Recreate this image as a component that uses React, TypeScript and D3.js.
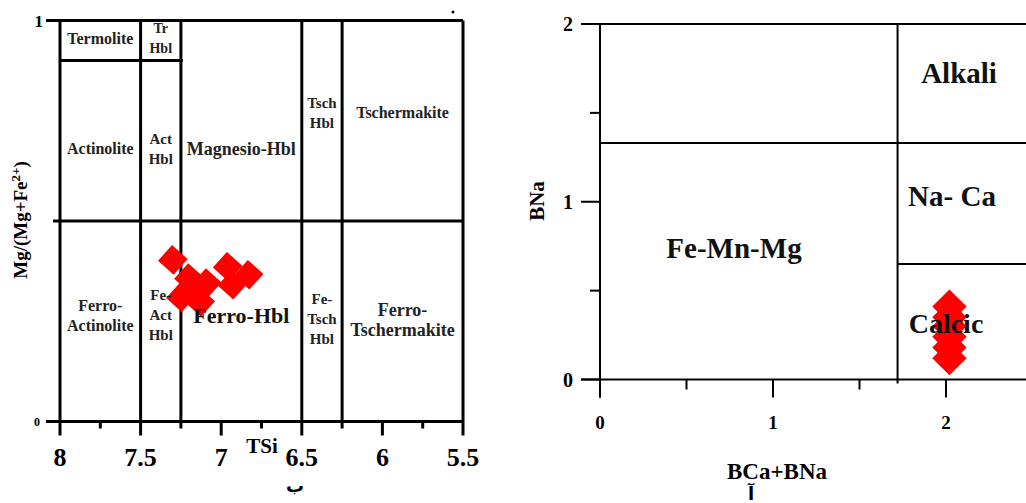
import React from 'react';
import * as d3 from 'd3';

// left diagram (TSi vs Mg/(Mg+Fe2+))
const tsi = [7.3, 7.2, 7.25, 7.13, 7.09, 7.18, 6.96, 6.83, 6.93];
const mgNo = [0.403, 0.358, 0.31, 0.298, 0.345, 0.33, 0.386, 0.366, 0.341];
const tsiTicks = [8, 7.5, 7, 6.5, 6, 5.5];
const tsiMinor = [7.75, 7.25, 6.75, 6.25, 5.75];
const leftBounds = [7.5, 7.25, 6.5, 6.25];

// right diagram (BCa+BNa vs BNa)
const bcaBna = [2.02, 2.02, 2.02, 2.02, 2.02, 2.02];
const bna = [0.41, 0.35, 0.3, 0.24, 0.18, 0.12];
const bTicks = [0, 1, 2];
const bMinor = [0.5, 1.5];
const splitX = 1.72;
const splitY1 = 1.33;
const splitY2 = 0.65;

const F = "'Times New Roman', Times, 'Liberation Serif', serif";

// text lines, x (TSi), y (Mg#), font size
const leftLabels: [string[], number, number, number][] = [
  [['Termolite'], 7.75, 0.955, 16],
  [['Tr', 'Hbl'], 7.375, 0.955, 14],
  [['Actinolite'], 7.75, 0.68, 16],
  [['Act', 'Hbl'], 7.375, 0.68, 15],
  [['Magnesio-Hbl'], 6.875, 0.68, 18],
  [['Tsch', 'Hbl'], 6.375, 0.77, 15],
  [['Tschermakite'], 5.875, 0.77, 16],
  [['Ferro-', 'Actinolite'], 7.75, 0.265, 16],
  [['Fe-', 'Act', 'Hbl'], 7.375, 0.265, 15],
  [['Fe-', 'Tsch', 'Hbl'], 6.375, 0.255, 15],
  [['Ferro-', 'Tschermakite'], 5.875, 0.255, 18],
];

export default function App() {
  const x = d3.scaleLinear().domain([8, 5.5]).range([60, 463]);
  const y = d3.scaleLinear().domain([0, 1]).range([421.5, 20.5]);
  const x2 = d3.scaleLinear().domain([0, 2.5]).range([600, 1032.5]);
  const y2 = d3.scaleLinear().domain([0, 2]).range([379.5, 24]);
  const dl = d3.symbol(d3.symbolSquare, 440)()!;
  const dr = d3.symbol(d3.symbolSquare, 590)()!;

  return (
    <svg width={1026} height={503} style={{ position: 'absolute', left: 0, top: 0, background: '#fff' }}>
      <g fontFamily={F} fontWeight={700}>
      {/* ---------- left diagram ---------- */}
      <g stroke="#000" strokeWidth={3} fill="none">
        <line x1={46} x2={x(5.5)} y1={y(1)} y2={y(1)} />
        <line x1={46} x2={x(5.5)} y1={y(0)} y2={y(0)} />
        <line x1={53} x2={x(5.5)} y1={y(0.5)} y2={y(0.5)} />
        <line x1={x(8)} x2={x(7.25) + 2} y1={y(0.9)} y2={y(0.9)} />
        {tsiTicks.map((t) => (
          <line key={'M' + t} x1={x(t)} x2={x(t)} y1={t === 8 || t === 7.5 || t === 6.5 || t === 5.5 ? y(1) : y(0)} y2={y(0) + 14} />
        ))}
        {tsiMinor.map((t) => (
          <line key={'m' + t} x1={x(t)} x2={x(t)} y1={leftBounds.includes(t) ? y(1) : y(0)} y2={y(0) + 7} />
        ))}
      </g>
      <circle cx={453} cy={12} r={1.5} fill="#000" />
      <text x={43} y={y(1) + 6} fontSize={17} textAnchor="end">1</text>
      <text x={40} y={y(0) + 4} fontSize={12} textAnchor="end">0</text>
      {tsiTicks.map((t) => (
        <text key={'t' + t} x={x(t)} y={466} fontSize={26} textAnchor="middle">{t}</text>
      ))}
      <text x={262} y={453} fontSize={21} textAnchor="middle">TSi</text>
      <text transform="translate(27,220) rotate(-90)" fontSize={19} textAnchor="middle">
        Mg/(Mg+Fe<tspan fontSize={13} dy={-7}>2+</tspan><tspan dy={7}>)</tspan>
      </text>
      <text x={295} y={492} fontSize={18} textAnchor="middle" fontFamily="DejaVu Sans">ب</text>

      {tsi.map((v, i) => (
        <path key={'p' + i} d={dl} fill="#f00" transform={`translate(${x(v)},${y(mgNo[i])}) rotate(42)`} />
      ))}
      {leftLabels.map(([lines, lx, ly, fs], i) => (
        <text key={'l' + i} x={x(lx)} y={y(ly)} fontSize={fs} textAnchor="middle" fill="#222">
          {lines.map((s, j) => (
            <tspan key={j} x={x(lx)} dy={j === 0 ? (-(lines.length - 1) * 20) / 2 + fs * 0.35 : 20}>{s}</tspan>
          ))}
        </text>
      ))}
      <text x={x(6.875)} y={y(0.245)} fontSize={22} textAnchor="middle" fill="#111">Ferro-Hbl</text>

      {/* ---------- right diagram ---------- */}
      <g stroke="#000" strokeWidth={2} fill="none">
        <line x1={581} x2={1026} y1={y2(2)} y2={y2(2)} />
        <line x1={581} x2={1026} y1={y2(0)} y2={y2(0)} />
        <line x1={x2(0)} x2={1026} y1={y2(splitY1)} y2={y2(splitY1)} />
        <line x1={x2(splitX)} x2={1026} y1={y2(splitY2)} y2={y2(splitY2)} />
        <line x1={x2(0)} x2={x2(0)} y1={y2(2)} y2={y2(0) + 18} />
        <line x1={x2(splitX)} x2={x2(splitX)} y1={y2(2)} y2={y2(0) + 4} />
        {bTicks.map((t) => (
          <g key={'b' + t}>
            <line x1={581} x2={600} y1={y2(t)} y2={y2(t)} />
            <line x1={x2(t)} x2={x2(t)} y1={y2(0)} y2={y2(0) + 18} />
          </g>
        ))}
        {bMinor.map((t) => (
          <g key={'bm' + t}>
            <line x1={590} x2={600} y1={y2(t)} y2={y2(t)} />
            <line x1={x2(t)} x2={x2(t)} y1={y2(0)} y2={y2(0) + 10} />
          </g>
        ))}
      </g>
      {bTicks.map((t) => (
        <text key={'by' + t} x={573} y={y2(t) + 7} fontSize={20} textAnchor="end">{t}</text>
      ))}
      {bTicks.map((t) => (
        <text key={'bx' + t} x={x2(t)} y={429} fontSize={19} textAnchor="middle">{t}</text>
      ))}
      <text transform="translate(544,201) rotate(-90)" fontSize={21} textAnchor="middle">BNa</text>
      <text x={777} y={479} fontSize={23} textAnchor="middle">BCa+BNa</text>
      <text x={751} y={500} fontSize={18} textAnchor="middle" fontFamily="DejaVu Sans">آ</text>

      {bcaBna.map((v, i) => (
        <path key={'r' + i} d={dr} fill="#f00" transform={`translate(${x2(v)},${y2(bna[i])}) rotate(45)`} />
      ))}
      <text x={734} y={258} fontSize={29} textAnchor="middle" fill="#111">Fe-Mn-Mg</text>
      <text x={959} y={83} fontSize={29} textAnchor="middle" fill="#111">Alkali</text>
      <text x={952} y={206} fontSize={29} textAnchor="middle" fill="#111">Na- Ca</text>
      <text x={946} y={333} fontSize={28} textAnchor="middle" fill="#111">Calcic</text>
      </g>
    </svg>
  );
}
